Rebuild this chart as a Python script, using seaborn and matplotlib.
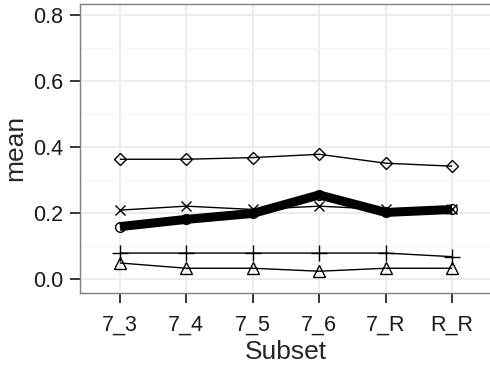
#!/usr/bin/env python3
import pandas as pd
import seaborn as sns
import matplotlib.pyplot as plt

subsets = ["7_3", "7_4", "7_5", "7_6", "7_R", "R_R"]

diamond_vals = [0.364, 0.364, 0.369, 0.379, 0.352, 0.343]
cross_vals = [0.210, 0.222, 0.212, 0.222, 0.212, 0.212]
thick_vals = [0.160, 0.182, 0.200, 0.256, 0.203, 0.212]
plus_vals = [0.080, 0.080, 0.080, 0.080, 0.080, 0.069]
triangle_vals = [0.050, 0.034, 0.034, 0.025, 0.034, 0.034]

series = {
    "diamond": diamond_vals,
    "cross": cross_vals,
    "plus": plus_vals,
    "triangle": triangle_vals,
    "thick": thick_vals,
}

# marker, marker size, line width per series
styles = {
    "diamond": ("D", 6.5, 1.0),
    "cross": ("x", 7.5, 1.0),
    "plus": ("+", 11, 1.0),
    "triangle": ("^", 9, 1.0),
    "thick": ("o", 7.0, 6.5),
}

df = pd.concat(
    [pd.DataFrame({"Subset": subsets, "mean": v, "series": k}) for k, v in series.items()],
    ignore_index=True,
)

sns.set_theme(style="white")
plt.rcParams["font.family"] = ["Liberation Sans", "DejaVu Sans"]

fig = plt.figure(figsize=(4.9, 3.69), dpi=100)
ax = fig.add_axes([80 / 490, 1 - 292.7 / 369, 412 / 490, (292.7 - 4) / 369])

for name, grp in df.groupby("series", sort=False):
    marker, ms, lw = styles[name]
    sns.lineplot(
        data=grp, x="Subset", y="mean", ax=ax, color="black",
        marker=marker, markersize=ms, lw=lw,
        markerfacecolor="none", markeredgecolor="black", markeredgewidth=1.0,
        solid_capstyle="butt", solid_joinstyle="round",
        sort=False, legend=False, zorder=3,
    )

ax.set_xlim(-0.6, 5.6)
ax.set_ylim(-0.04, 0.834)
ax.set_yticks([0.0, 0.2, 0.4, 0.6, 0.8])
ax.set_yticks([0.1, 0.3, 0.5, 0.7], minor=True)
ax.set_yticklabels(["0.0", "0.2", "0.4", "0.6", "0.8"])

ax.grid(True, which="major", color="#EBEBEB", lw=1.3)
ax.grid(True, which="minor", axis="y", color="#F5F5F5", lw=0.8)
ax.set_axisbelow(True)

for s in ax.spines.values():
    s.set_color("#7F7F7F")
    s.set_linewidth(1.0)

ax.tick_params(axis="both", which="major", length=7, width=1.1, color="black",
               labelsize=15.5, labelcolor="#1a1a1a", direction="out",
               bottom=True, left=True)
ax.tick_params(axis="x", which="major", pad=9)
ax.tick_params(axis="y", which="major", pad=5)
ax.tick_params(axis="y", which="minor", length=0)

ax.set_xlabel("Subset", fontsize=19, labelpad=3)
ax.set_ylabel("mean", fontsize=19, labelpad=4)

fig.savefig("out.png", dpi=100)
